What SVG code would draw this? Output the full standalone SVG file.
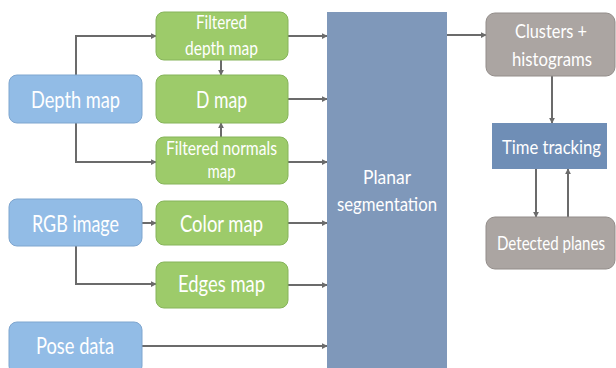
<svg xmlns="http://www.w3.org/2000/svg" width="616" height="368" viewBox="0 0 616 368">
<defs>
<marker id="ah" viewBox="0 0 8 8" refX="7" refY="4" markerWidth="6" markerHeight="6" markerUnits="userSpaceOnUse" orient="auto"><path d="M0,0 L8,4 L0,8 z" fill="#6b6b6b"/></marker>
<style>
.blue{fill:#92BCE6;stroke:#7FA6CF;stroke-width:1}
.green{fill:#9DCB6A;stroke:#86B45A;stroke-width:1}
.gray{fill:#ABA5A2;stroke:#938D8A;stroke-width:1}
.t{font-family:Lato,"Liberation Sans",sans-serif;fill:#fff;text-anchor:middle}
.c{fill:none;stroke:#6b6b6b;stroke-width:2;marker-end:url(#ah)}
</style>
</defs>
<rect width="616" height="368" fill="#fff"/>
<g id="connectors">
<path class="c" d="M76,75 V36 H156"/>
<path class="c" d="M76,123 V162 H156"/>
<path class="c" d="M221,60 V75"/>
<path class="c" d="M221,137 V123"/>
<path class="c" d="M288,36 H327"/>
<path class="c" d="M288,99 H327"/>
<path class="c" d="M288,162 H327"/>
<path class="c" d="M142,223 H156"/>
<path class="c" d="M76,246 V284 H156"/>
<path class="c" d="M288,223 H327"/>
<path class="c" d="M288,285 H327"/>
<path class="c" d="M142,346 H327"/>
<path class="c" d="M447,35 H486"/>
<path class="c" d="M552,76 V123"/>
<path class="c" d="M536,169 V217"/>
<path class="c" d="M568,217 V169"/>
</g>
<g id="depth_map"><rect class="blue" x="9" y="75" width="133" height="48" rx="8"/><text class="t" x="75.5" y="108" font-size="23" textLength="89" lengthAdjust="spacingAndGlyphs">Depth map</text></g>
<g id="rgb_image"><rect class="blue" x="9" y="199" width="133" height="47" rx="8"/><text class="t" x="75.5" y="232" font-size="23" textLength="87" lengthAdjust="spacingAndGlyphs">RGB image</text></g>
<g id="pose_data"><rect class="blue" x="9" y="322" width="133" height="52" rx="8"/><text class="t" x="75" y="354" font-size="23" textLength="78" lengthAdjust="spacingAndGlyphs">Pose data</text></g>
<g id="filtered_depth_map"><rect class="green" x="156" y="12" width="132" height="48" rx="8"/><text class="t" x="221.5" y="29" font-size="19" textLength="51" lengthAdjust="spacingAndGlyphs">Filtered</text><text class="t" x="221.5" y="55" font-size="19" textLength="73" lengthAdjust="spacingAndGlyphs">depth map</text></g>
<g id="d_map"><rect class="green" x="156" y="75" width="132" height="48" rx="8"/><text class="t" x="221.5" y="108" font-size="23" textLength="51" lengthAdjust="spacingAndGlyphs">D map</text></g>
<g id="filtered_normals_map"><rect class="green" x="156" y="137" width="132" height="47" rx="8"/><text class="t" x="221.5" y="155" font-size="19" textLength="111" lengthAdjust="spacingAndGlyphs">Filtered normals</text><text class="t" x="221.5" y="178" font-size="19" textLength="28" lengthAdjust="spacingAndGlyphs">map</text></g>
<g id="color_map"><rect class="green" x="156" y="201" width="132" height="44" rx="8"/><text class="t" x="221.5" y="232" font-size="23" textLength="83" lengthAdjust="spacingAndGlyphs">Color map</text></g>
<g id="edges_map"><rect class="green" x="156" y="262" width="132" height="46" rx="8"/><text class="t" x="221.5" y="292" font-size="23" textLength="87" lengthAdjust="spacingAndGlyphs">Edges map</text></g>
<g id="planar_segmentation"><rect x="327" y="12" width="120" height="360" fill="#7F98BA"/><text class="t" x="387" y="184" font-size="20" textLength="48" lengthAdjust="spacingAndGlyphs">Planar</text><text class="t" x="387" y="211" font-size="20" textLength="100" lengthAdjust="spacingAndGlyphs">segmentation</text></g>
<g id="clusters_histograms"><rect class="gray" x="486" y="13" width="129" height="63" rx="9"/><text class="t" x="551" y="38" font-size="20" textLength="72" lengthAdjust="spacingAndGlyphs">Clusters +</text><text class="t" x="552" y="66" font-size="20" textLength="80" lengthAdjust="spacingAndGlyphs">histograms</text></g>
<g id="time_tracking"><rect x="492" y="123" width="115" height="46" fill="#6F8EB6"/><text class="t" transform="scale(0.85,1)" x="648.8" y="154" font-size="20" textLength="116.5" lengthAdjust="spacingAndGlyphs">Time tracking</text></g>
<g id="detected_planes"><rect class="gray" x="486" y="217" width="129" height="52" rx="9"/><text class="t" transform="scale(0.85,1)" x="648.2" y="250" font-size="19" textLength="127" lengthAdjust="spacingAndGlyphs">Detected planes</text></g>
</svg>
